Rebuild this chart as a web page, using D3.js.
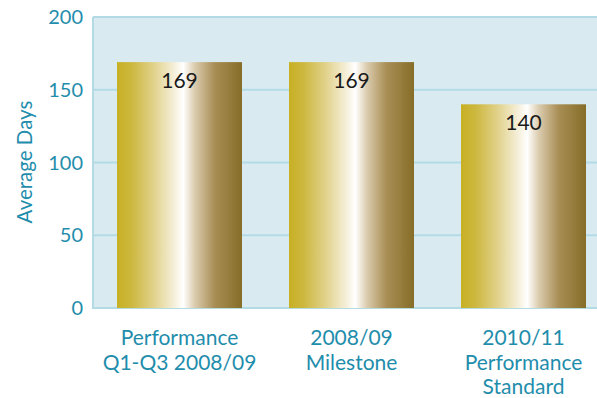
<!DOCTYPE html>
<html><head><meta charset="utf-8">
<script src="https://cdn.jsdelivr.net/npm/d3@7"></script>
<style>body{margin:0;background:#fff}svg{display:block}</style>
</head><body>
<svg id="c" width="597" height="398"></svg>
<script>
const categories = [["Performance","Q1-Q3 2008/09"],["2008/09","Milestone"],["2010/11","Performance","Standard"]];
const values = [169, 169, 140];
const yTicks = [0, 50, 100, 150, 200];
const yTitle = "Average Days";

(function(){
const svg = d3.select("#c");
const mLeft = 93, mTop = 17, mBottom = 308, mRight = 597;
const font = "'Lato', 'Open Sans', sans-serif";
const teal = "#1f8dac";

const x = d3.scaleBand().domain(d3.range(values.length)).range([mLeft, 610]).paddingInner(0.2733).paddingOuter(0.1395);
const y = d3.scaleLinear().domain([0, 200]).range([mBottom, mTop]);

const defs = svg.append("defs");
const g = defs.append("linearGradient").attr("id","gold").attr("x1","0").attr("x2","1").attr("y1","0").attr("y2","0");
[[0,"#c8b024"],[0.12,"#cdb840"],[0.3,"#e2d38e"],[0.45,"#f4eed6"],[0.53,"#ffffff"],[0.62,"#dccdb0"],[0.78,"#a98e55"],[1,"#866d28"]]
  .forEach(([o,c]) => g.append("stop").attr("offset",o).attr("stop-color",c));

svg.append("rect").attr("x",mLeft).attr("y",mTop).attr("width",mRight-mLeft).attr("height",mBottom-mTop).attr("fill","#d9ebf1");

svg.append("g").selectAll("line").data(yTicks.filter(d=>d>0)).join("line")
  .attr("x1",mLeft).attr("x2",mRight).attr("y1",d=>y(d)).attr("y2",d=>y(d))
  .attr("stroke","#b2dbe6").attr("stroke-width",2);

svg.append("line").attr("x1",mLeft).attr("x2",mLeft).attr("y1",mTop).attr("y2",mBottom+1).attr("stroke","#b2dbe6").attr("stroke-width",2);
svg.append("line").attr("x1",mLeft).attr("x2",mRight).attr("y1",mBottom).attr("y2",mBottom).attr("stroke","#b2dbe6").attr("stroke-width",2);

svg.append("g").selectAll("rect").data(values).join("rect")
  .attr("x",(d,i)=>x(i)).attr("width",x.bandwidth())
  .attr("y",d=>y(d)).attr("height",d=>y(0)-y(d))
  .attr("fill","url(#gold)");

svg.append("g").selectAll("text").data(values).join("text")
  .attr("x",(d,i)=>x(i)+x.bandwidth()/2).attr("y",d=>y(d)+26)
  .attr("text-anchor","middle").attr("font-family",font).attr("font-size",21).attr("fill","#1a1a1a")
  .text(d=>d);

svg.append("g").selectAll("text").data(yTicks).join("text")
  .attr("x",83).attr("y",d=>y(d)+7).attr("text-anchor","end")
  .attr("font-family",font).attr("font-size",20).attr("fill",teal).text(d=>d);

svg.append("text").attr("transform","translate(32,162) rotate(-90)").attr("text-anchor","middle")
  .attr("font-family",font).attr("font-size",20.5).attr("fill",teal).text(yTitle);

const cl = svg.append("g").selectAll("text").data(categories).join("text")
  .attr("text-anchor","middle").attr("font-family",font).attr("font-size",21).attr("fill",teal);
cl.each(function(lines,i){
  d3.select(this).selectAll("tspan").data(lines).join("tspan")
    .attr("x",x(i)+x.bandwidth()/2).attr("y",(l,j)=>345+j*24.5).text(l=>l);
});
})();
</script>
</body></html>
